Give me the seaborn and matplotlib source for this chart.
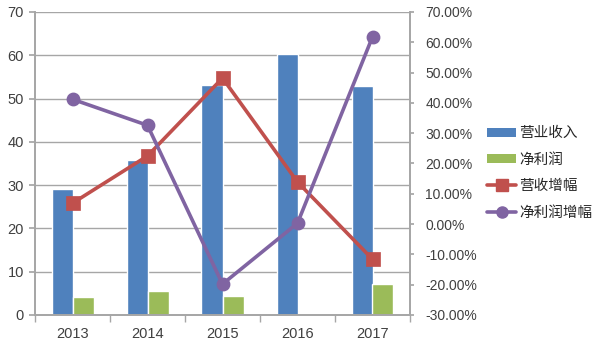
import numpy as np
import pandas as pd
import matplotlib
matplotlib.use("Agg")
import matplotlib.pyplot as plt
import seaborn as sns
from matplotlib.patches import Patch
from matplotlib.lines import Line2D
from matplotlib.ticker import FuncFormatter, MultipleLocator, FixedLocator

years = ["2013", "2014", "2015", "2016", "2017"]
revenue = [29.2, 35.8, 53.1, 60.2, 52.9]
net_profit = [4.1, 5.5, 4.5, 0.2, 7.1]
revenue_growth = [6.9, 22.5, 48.2, 13.9, -11.6]
profit_growth = [41.2, 32.6, -19.8, 0.3, 61.8]
bar_names = ["营业收入", "净利润"]
line_names = ["营收增幅", "净利润增幅"]

blue, green, red, purple = "#4F81BD", "#9BBB59", "#C0504D", "#8064A2"

sns.set_theme(style="white")
plt.rcParams['font.family'] = ['Liberation Sans', 'Noto Sans CJK SC', 'DejaVu Sans']

bars = pd.DataFrame({
    "year": years * 2,
    "value": revenue + net_profit,
    "series": [bar_names[0]] * 5 + [bar_names[1]] * 5,
})
lines = pd.DataFrame({
    "year": years * 2,
    "value": revenue_growth + profit_growth,
    "series": [line_names[0]] * 5 + [line_names[1]] * 5,
})

fig = plt.figure(figsize=(6, 3.45), dpi=100)
ax = fig.add_axes([35/600, 1-315/345, 375/600, 303/345])
sns.barplot(data=bars, x="year", y="value", hue="series", palette=[blue, green],
            width=0.56, saturation=1, ax=ax, legend=False)
ax.set_ylim(0, 70)
ax.yaxis.set_major_locator(MultipleLocator(10))
ax.grid(axis="y", color="#A6A6A6", lw=1)
ax.set_axisbelow(True)
ax.set_xlim(-0.5, 4.5)
ax.set_xlabel("")
ax.set_ylabel("")

ax2 = ax.twinx()
sns.pointplot(data=lines, x="year", y="value", hue="series", palette=[red, purple],
              markers=["s", "o"], markersize=8, linewidth=2.6, ax=ax2, legend=False)
ax2.set_ylim(-30, 70)
ax2.yaxis.set_major_locator(MultipleLocator(10))
ax2.yaxis.set_major_formatter(FuncFormatter(lambda v, p: f"{v:.2f}%"))
ax2.set_xlim(-0.5, 4.5)
ax2.set_ylabel("")
ax2.set_xlabel("")

for a in (ax, ax2):
    for s in a.spines.values():
        s.set_color("#A6A6A6")
    a.spines["top"].set_visible(False)
ax.tick_params(axis="y", left=True, length=4, color="#A6A6A6", labelsize=10.5, labelcolor="#404040", pad=4)
ax.tick_params(axis="x", bottom=False, labelsize=10.5, labelcolor="#404040", pad=3)
ax.xaxis.set_minor_locator(FixedLocator([-0.5, 0.5, 1.5, 2.5, 3.5, 4.5]))
ax.tick_params(axis="x", which="minor", bottom=True, length=5, color="#A6A6A6")
ax2.tick_params(axis="y", right=True, length=3, color="#A6A6A6", labelsize=10, labelcolor="#404040", pad=8)

handles = [
    Patch(facecolor=blue, edgecolor="none"),
    Patch(facecolor=green, edgecolor="none"),
    Line2D([], [], color=red, marker="s", markersize=8, lw=2.6),
    Line2D([], [], color=purple, marker="o", markersize=8, lw=2.6),
]
fig.legend(handles, bar_names + line_names, loc="center left",
           bbox_to_anchor=(487/600, 1-173/345), frameon=False,
           prop={"family": ["Noto Sans CJK SC", "DejaVu Sans"], "size": 10.5},
           handlelength=2.0, handleheight=0.6, labelspacing=0.85, handletextpad=0.2,
           borderaxespad=0, borderpad=0)

fig.savefig("out.png", dpi=100)
